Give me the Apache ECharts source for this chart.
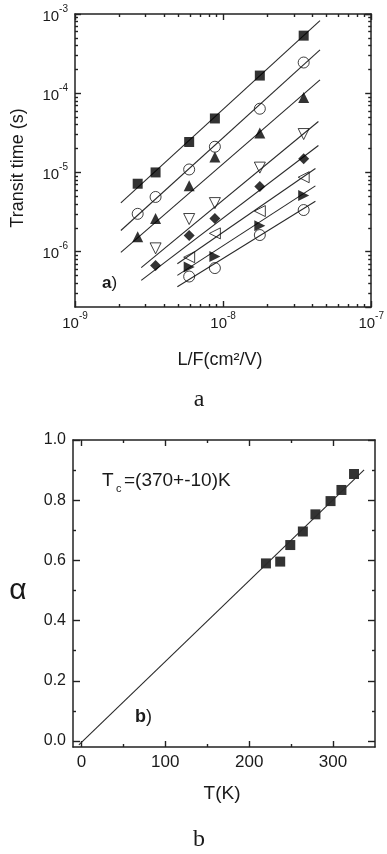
<!DOCTYPE html>
<html>
<head>
<meta charset="utf-8">
<script src="https://cdn.jsdelivr.net/npm/echarts@6/dist/echarts.min.js"></script>
<style>
  html, body { margin: 0; padding: 0; background: #fff; }
  #chart { width: 387px; height: 854px; }
</style>
</head>
<body>
<div id="chart"></div>
<script>
// panel a: transit time (s) against L/F (cm2/V), one array per sample
const lfValues = [2.65e-9, 3.5e-9, 5.9e-9, 8.8e-9, 1.77e-8, 3.5e-8];
const timeSquare = [7.2e-6, 1.0e-5, 2.42e-5, 4.8e-5, 1.67e-4, 5.33e-4];
const timeCircle = [3.0e-6, 4.9e-6, 1.09e-5, 2.11e-5, 6.37e-5, 2.44e-4];
const timeTriUp = [1.54e-6, 2.62e-6, 6.8e-6, 1.57e-5, 3.14e-5, 8.8e-5];
const timeTriDown = [null, 1.1e-6, 2.58e-6, 4.1e-6, 1.15e-5, 3.05e-5];
const timeDiamond = [null, 6.7e-7, 1.6e-6, 2.62e-6, 6.65e-6, 1.49e-5];
const timeTriLeft = [null, null, 8.5e-7, 1.7e-6, 3.25e-6, 8.7e-6];
const timeTriRight = [null, null, 6.4e-7, 8.7e-7, 2.12e-6, 5.1e-6];
const timeCircle2 = [null, null, 4.85e-7, 6.2e-7, 1.62e-6, 3.35e-6];

// fitted lines, [start, end]
const fitSquare = [[2.04e-9, 4.13e-6], [4.51e-8, 8.24e-4]];
const fitCircle = [[2.04e-9, 1.85e-6], [4.51e-8, 3.52e-4]];
const fitTriUp = [[2.04e-9, 9.8e-7], [4.51e-8, 1.47e-4]];
const fitTriDown = [[2.8e-9, 6.27e-7], [4.4e-8, 4.4e-5]];
const fitDiamond = [[2.8e-9, 4.34e-7], [4.4e-8, 2.19e-5]];
const fitTriLeft = [[4.91e-9, 7.04e-7], [4.2e-8, 1.12e-5]];
const fitTriRight = [[4.91e-9, 5.01e-7], [4.2e-8, 6.76e-6]];
const fitCircle2 = [[4.91e-9, 3.61e-7], [4.2e-8, 4.33e-6]];

// log minor ticks (2..9 of each decade)
const lfMinorTicks = [2e-9, 3e-9, 4e-9, 5e-9, 6e-9, 7e-9, 8e-9, 9e-9,
  2e-8, 3e-8, 4e-8, 5e-8, 6e-8, 7e-8, 8e-8, 9e-8];
const timeMinorTicks = [3e-7, 4e-7, 5e-7, 6e-7, 7e-7, 8e-7, 9e-7,
  2e-6, 3e-6, 4e-6, 5e-6, 6e-6, 7e-6, 8e-6, 9e-6,
  2e-5, 3e-5, 4e-5, 5e-5, 6e-5, 7e-5, 8e-5, 9e-5,
  2e-4, 3e-4, 4e-4, 5e-4, 6e-4, 7e-4, 8e-4, 9e-4];

// panel b: alpha against temperature
const tempValues = [220, 237, 249, 264, 279, 297, 310, 325];
const alphaValues = [0.59, 0.596, 0.651, 0.696, 0.753, 0.797, 0.834, 0.887];
const fitTemp = [-3, 337];
const fitAlpha = [-0.013, 0.901];
const tempTicks = [0, 100, 200, 300];
const tempMinorTicks = [50, 150, 250];
const alphaTicks = [0, 0.2, 0.4, 0.6, 0.8, 1.0];
const alphaMinorTicks = [0.1, 0.3, 0.5, 0.7, 0.9];

const FONT = '"Liberation Sans", Arial, sans-serif';
const INK = '#1a1a1a';
const AXIS = '#222';
const TICK_W = 1.4;

const markers = [
  { ys: timeSquare, fit: fitSquare, symbol: 'rect', rotate: 0, filled: true },
  { ys: timeCircle, fit: fitCircle, symbol: 'circle', rotate: 0, filled: false },
  { ys: timeTriUp, fit: fitTriUp, symbol: 'triangle', rotate: 0, filled: true },
  { ys: timeTriDown, fit: fitTriDown, symbol: 'triangle', rotate: 180, filled: false },
  { ys: timeDiamond, fit: fitDiamond, symbol: 'diamond', rotate: 0, filled: true },
  { ys: timeTriLeft, fit: fitTriLeft, symbol: 'triangle', rotate: 90, filled: false },
  { ys: timeTriRight, fit: fitTriRight, symbol: 'triangle', rotate: -90, filled: true },
  { ys: timeCircle2, fit: fitCircle2, symbol: 'circle', rotate: 0, filled: false },
];

function powerLabel(v) {
  return '{b|10}{s|' + Math.round(Math.log10(v)) + '}';
}
const powerRich = {
  b: { fontSize: 15, fontFamily: FONT, color: INK, lineHeight: 20, verticalAlign: 'bottom' },
  s: { fontSize: 10, fontFamily: FONT, color: INK, lineHeight: 12, verticalAlign: 'top' },
};

function tickStyle(len, values) {
  const t = { show: true, inside: true, interval: 0, length: len, lineStyle: { color: AXIS, width: TICK_W } };
  if (values) t.customValues = values;
  return t;
}
function boxAxis(extra) {
  return Object.assign({
    axisLine: { show: true, onZero: false, lineStyle: { color: AXIS, width: 1.5 } },
    axisTick: tickStyle(6),
    axisLabel: { show: false },
    splitLine: { show: false },
  }, extra);
}
function minorAxis(extra, values) {
  return Object.assign({
    type: 'value',
    axisLine: { show: false, onZero: false },
    axisTick: tickStyle(3, values),
    axisLabel: { show: false },
    splitLine: { show: false },
  }, extra);
}

const lfMin = 1e-9, lfMax = 1e-7, timeMin = 2e-7, timeMax = 1e-3;
const logLf = [Math.log10(lfMin), Math.log10(lfMax)];
const logTime = [Math.log10(timeMin), Math.log10(timeMax)];

const xAxes = [
  boxAxis({
    gridIndex: 0, type: 'log', logBase: 10, min: lfMin, max: lfMax, position: 'bottom',
    axisLabel: { show: true, margin: 4, formatter: powerLabel, rich: powerRich },
  }),
  boxAxis({ gridIndex: 0, type: 'log', logBase: 10, min: lfMin, max: lfMax, position: 'top' }),
  minorAxis({ gridIndex: 0, min: logLf[0], max: logLf[1], position: 'bottom' }, lfMinorTicks.map(Math.log10)),
  minorAxis({ gridIndex: 0, min: logLf[0], max: logLf[1], position: 'top' }, lfMinorTicks.map(Math.log10)),
  boxAxis({
    gridIndex: 1, type: 'value', min: -10, max: 350, position: 'bottom',
    axisTick: tickStyle(6, tempTicks),
    axisLabel: { show: true, customValues: tempTicks, margin: 7, fontSize: 17, fontFamily: FONT, color: INK },
  }),
  minorAxis({ gridIndex: 1, min: -10, max: 350, position: 'bottom' }, tempMinorTicks),
  boxAxis({ gridIndex: 1, type: 'value', min: -10, max: 350, position: 'top', axisTick: tickStyle(6, tempTicks) }),
  minorAxis({ gridIndex: 1, min: -10, max: 350, position: 'top' }, tempMinorTicks),
];

const yAxes = [
  boxAxis({
    gridIndex: 0, type: 'log', logBase: 10, min: timeMin, max: timeMax, position: 'left',
    axisLabel: { show: true, margin: 7, showMinLabel: false, formatter: powerLabel, rich: powerRich },
  }),
  boxAxis({ gridIndex: 0, type: 'log', logBase: 10, min: timeMin, max: timeMax, position: 'right' }),
  minorAxis({ gridIndex: 0, min: logTime[0], max: logTime[1], position: 'left' }, timeMinorTicks.map(Math.log10)),
  minorAxis({ gridIndex: 0, min: logTime[0], max: logTime[1], position: 'right' }, timeMinorTicks.map(Math.log10)),
  boxAxis({
    gridIndex: 1, type: 'value', min: -0.02, max: 1.0, position: 'left',
    axisTick: tickStyle(7, alphaTicks),
    axisLabel: {
      show: true, customValues: alphaTicks, margin: 7, fontSize: 16, fontFamily: FONT, color: INK,
      formatter: (v) => v.toFixed(1),
    },
  }),
  minorAxis({ gridIndex: 1, min: -0.02, max: 1.0, position: 'left' }, alphaMinorTicks),
  boxAxis({ gridIndex: 1, type: 'value', min: -0.02, max: 1.0, position: 'right', axisTick: tickStyle(7, alphaTicks) }),
  minorAxis({ gridIndex: 1, min: -0.02, max: 1.0, position: 'right' }, alphaMinorTicks),
];

const series = [];
markers.forEach((m) => {
  series.push({
    type: 'line',
    xAxisIndex: 0, yAxisIndex: 0,
    data: m.fit,
    showSymbol: false,
    silent: true,
    lineStyle: { color: '#2a2a2a', width: 1.1 },
    z: 2,
  });
});
markers.forEach((m) => {
  series.push({
    type: 'scatter',
    xAxisIndex: 0, yAxisIndex: 0,
    data: lfValues.map((x, i) => (m.ys[i] == null ? null : [x, m.ys[i]])).filter(Boolean),
    symbol: m.symbol,
    symbolRotate: m.rotate,
    symbolSize: m.symbol === 'rect' ? 10 : 11,
    itemStyle: m.filled
      ? { color: '#000', borderWidth: 0 }
      : { color: 'rgba(255,255,255,0)', borderColor: '#111', borderWidth: 1 },
    z: 3,
  });
});
series.push({
  type: 'line',
  xAxisIndex: 4, yAxisIndex: 4,
  data: fitTemp.map((t, i) => [t, fitAlpha[i]]),
  showSymbol: false,
  silent: true,
  lineStyle: { color: '#2a2a2a', width: 1.1 },
});
series.push({
  type: 'scatter',
  xAxisIndex: 4, yAxisIndex: 4,
  data: tempValues.map((t, i) => [t, alphaValues[i]]),
  symbol: 'rect',
  symbolSize: 10,
  itemStyle: { color: '#000' },
});

function label(x, y, text, font, extra) {
  return Object.assign({
    type: 'text', x, y,
    style: { text, font, fill: INK, textAlign: 'center', textVerticalAlign: 'middle' },
  }, extra || {});
}
function leftLabel(x, y, text, font) {
  return { type: 'text', x, y, style: { text, font, fill: INK, textAlign: 'left', textVerticalAlign: 'middle' } };
}

const chart = echarts.init(document.getElementById('chart'), null, { renderer: 'canvas' });
chart.setOption({
  animation: false,
  backgroundColor: '#fff',
  grid: [
    { left: 75, top: 14, width: 301, height: 293 },
    { left: 73, top: 440, width: 302, height: 307 },
  ],
  xAxis: xAxes,
  yAxis: yAxes,
  series,
  graphic: [
    label(18, 168, 'Transit time (s)', '18px ' + FONT, { rotation: Math.PI / 2 }),
    label(220, 360, 'L/F(cm\u00b2/V)', '18px ' + FONT),
    {
      type: 'text', x: 102, y: 283,
      style: {
        text: '{b|a})', fill: INK, font: '17px ' + FONT, textVerticalAlign: 'middle',
        rich: { b: { fontWeight: 'bold', fontSize: 17, fontFamily: FONT, fill: INK } },
      },
    },
    label(199, 400, 'a', '24px "Liberation Serif", "Times New Roman", serif'),
    label(18, 591, '\u03b1', '30px ' + FONT),
    leftLabel(102, 481, 'T', '19px ' + FONT),
    leftLabel(116, 489, 'c', '11px ' + FONT),
    leftLabel(124, 481, '=(370+-10)K', '19px ' + FONT),
    {
      type: 'text', x: 135, y: 717,
      style: {
        text: '{b|b})', fill: INK, font: '18px ' + FONT, textVerticalAlign: 'middle',
        rich: { b: { fontWeight: 'bold', fontSize: 18, fontFamily: FONT, fill: INK } },
      },
    },
    label(222, 794, 'T(K)', '19px ' + FONT),
    label(199, 840, 'b', '24px "Liberation Serif", "Times New Roman", serif'),
  ],
});
</script>
</body>
</html>
